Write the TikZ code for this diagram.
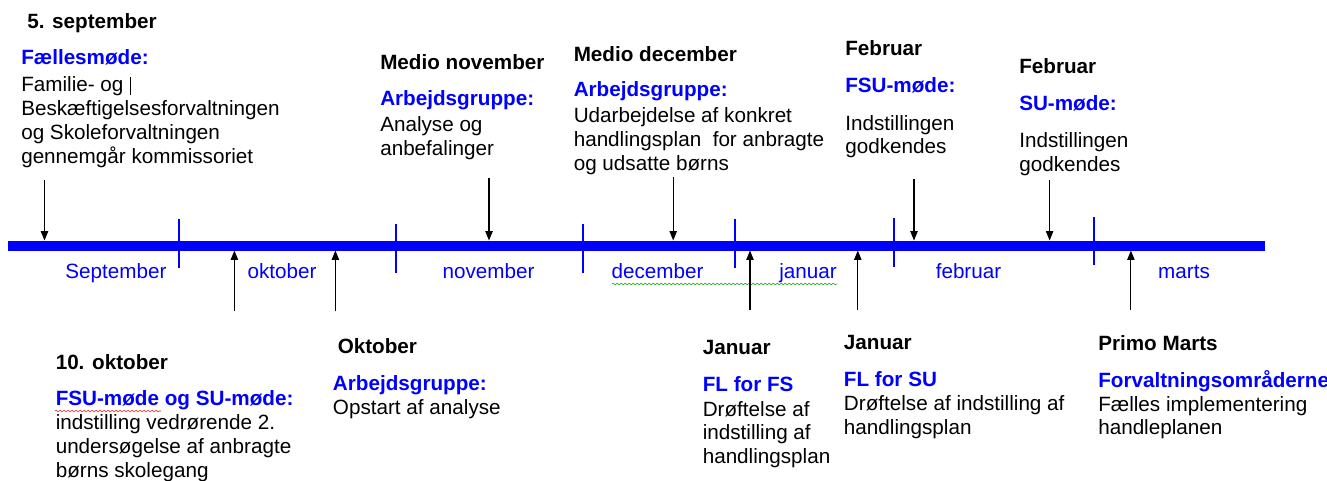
\documentclass[tikz,border=0pt]{standalone}
\usepackage{fontspec}
\setmainfont{Liberation Sans}
\usetikzlibrary{arrows.meta,decorations.pathmorphing}
\newcommand{\tlfont}{\fontsize{15.5}{17.85}\selectfont}
\begin{document}
\begin{tikzpicture}[x=0.75pt,y=-0.75pt,
  whenlbl/.style={font={\tlfont\bfseries},anchor=base west,inner sep=0pt},
  grouplbl/.style={font={\tlfont\bfseries},text=blue,anchor=base west,inner sep=0pt},
  bodytxt/.style={font=\tlfont,align=left,anchor=base west,inner sep=0pt},
  monthlbl/.style={font=\tlfont,text=blue,anchor=base,inner sep=0pt},
  tick/.style={blue,line width=1.5pt},
  pointer/.style={-{Triangle[length=7pt,width=5.5pt]},line width=0.8pt},
  spell/.style={decorate,decoration={snake,amplitude=0.6pt,segment length=3pt},line width=0.4pt}]
\clip (0,0) rectangle (1327,481);
\pgfmathsetmacro{\ty}{245.5}
\pgfmathsetmacro{\kt}{240.5}
\pgfmathsetmacro{\kb}{250.5}
\pgfmathsetmacro{\kl}{23.8}
%
\coordinate (tlstart) at (7.6,\ty);
\coordinate (tlend) at (1264.5,\ty);
\draw[blue,line width=7.5pt] (tlstart) -- (tlend);
%
\draw[tick] (179,219) -- (179,268);
\draw[tick] (396,224) -- (396,273);
\draw[tick] (582.5,224) -- (582.5,273);
\draw[tick] (734.7,219) -- (734.7,268);
\draw[tick] (893.5,218) -- (893.5,266.5);
\draw[tick] (1094,217) -- (1094,265);
%
\node[monthlbl] (msep) at (116,278) {September};
\node[monthlbl] (mokt) at (282,278) {oktober};
\node[monthlbl] (mnov) at (488.5,278) {november};
\node[monthlbl] (mdec) at (657.5,278) {december};
\node[monthlbl] (mjan) at (808,278) {januar};
\node[monthlbl] (mfeb) at (968.5,278) {februar};
\node[monthlbl] (mmar) at (1184,278) {marts};
\coordinate (spdecA) at (612,284);
\coordinate (spdecB) at (837,284);
\draw[spell,green!60!black] (spdecA) -- (spdecB);
%
\node[whenlbl] (sepdate) at (27,28.5) {5. september};
\node[grouplbl] (sephead) at (21,65) {Fællesmøde:};
\node[bodytxt] (sepbody) at (21,92+3*\kl) {Familie- og\hspace{5pt}\rule[-2pt]{0.6pt}{13pt}\\Beskæftigelsesforvaltningen\\og Skoleforvaltningen\\gennemgår kommissoriet};
%
\node[whenlbl] (novdate) at (380,70) {Medio november};
\node[grouplbl] (novhead) at (380,106) {Arbejdsgruppe:};
\node[bodytxt] (novbody) at (380,131.5+\kl) {Analyse og\\anbefalinger};
%
\node[whenlbl] (decdate) at (573.5,62) {Medio december};
\node[grouplbl] (dechead) at (573.5,97) {Arbejdsgruppe:};
\node[bodytxt] (decbody) at (573.5,122.5+2*\kl) {Udarbejdelse af konkret\\handlingsplan\ \ for anbragte\\og udsatte børns};
%
\node[whenlbl] (febAdate) at (845,56) {Februar};
\node[grouplbl] (febAhead) at (845,93) {FSU-møde:};
\node[bodytxt] (febAbody) at (845,130+\kl) {Indstillingen\\godkendes};
%
\node[whenlbl] (febBdate) at (1019,74) {Februar};
\node[grouplbl] (febBhead) at (1019,111) {SU-møde:};
\node[bodytxt] (febBbody) at (1019,147.5+\kl) {Indstillingen\\godkendes};
%
\node[whenlbl] (oktAdate) at (55.5,369.3) {10. oktober};
\node[grouplbl] (oktAhead) at (55.5,405.7) {FSU-møde og SU-møde:};
\node[bodytxt] (oktAbody) at (55.5,429.5+2*\kl) {indstilling vedrørende 2.\\undersøgelse af anbragte\\børns skolegang};
\coordinate (spfsuA) at (55,411);
\coordinate (spfsuB) at (161,411);
\draw[spell,red] (spfsuA) -- (spfsuB);
%
\node[whenlbl] (oktBdate) at (337.5,353.3) {Oktober};
\node[grouplbl] (oktBhead) at (332.7,390) {Arbejdsgruppe:};
\node[bodytxt] (oktBbody) at (332.7,414) {Opstart af analyse};
%
\node[whenlbl] (janAdate) at (702.5,354) {Januar};
\node[grouplbl] (janAhead) at (702.5,391) {FL for FS};
\node[bodytxt] (janAbody) at (702.5,416+2*\kl) {Drøftelse af\\indstilling af\\handlingsplan};
%
\node[whenlbl] (janBdate) at (843.7,349.5) {Januar};
\node[grouplbl] (janBhead) at (843.7,386.5) {FL for SU};
\node[bodytxt] (janBbody) at (843.7,410.5+\kl) {Drøftelse af indstilling af\\handlingsplan};
%
\node[whenlbl] (mardate) at (1098,350) {Primo Marts};
\node[grouplbl] (marhead) at (1098,387) {Forvaltningsområderne};
\node[bodytxt] (marbody) at (1098,411+\kl) {Fælles implementering\\handleplanen};
%
\coordinate (sepfrom) at (44.5,180);
\coordinate (septo) at (44.5,\kt);
\coordinate (novfrom) at (489,178);
\coordinate (novto) at (489,\kt);
\coordinate (decfrom) at (673.2,177);
\coordinate (decto) at (673.2,\kt);
\coordinate (febAfrom) at (914,179);
\coordinate (febAto) at (914,\kt);
\coordinate (febBfrom) at (1049.6,180);
\coordinate (febBto) at (1049.6,\kt);
\draw[pointer] (sepfrom) -- (septo);
\draw[pointer] (novfrom) -- (novto);
\draw[pointer] (decfrom) -- (decto);
\draw[pointer] (febAfrom) -- (febAto);
\draw[pointer] (febBfrom) -- (febBto);
%
\coordinate (oktAfrom) at (234.4,310.7);
\coordinate (oktAto) at (234.4,\kb);
\coordinate (oktBfrom) at (335.4,311);
\coordinate (oktBto) at (335.4,\kb);
\coordinate (janAfrom) at (750,310);
\coordinate (janAto) at (750,\kb);
\coordinate (janBfrom) at (857.8,310);
\coordinate (janBto) at (857.8,\kb);
\coordinate (marfrom) at (1130.9,310);
\coordinate (marto) at (1130.9,\kb);
\draw[pointer] (oktAfrom) -- (oktAto);
\draw[pointer] (oktBfrom) -- (oktBto);
\draw[pointer] (janAfrom) -- (janAto);
\draw[pointer] (janBfrom) -- (janBto);
\draw[pointer] (marfrom) -- (marto);
\end{tikzpicture}
\end{document}
